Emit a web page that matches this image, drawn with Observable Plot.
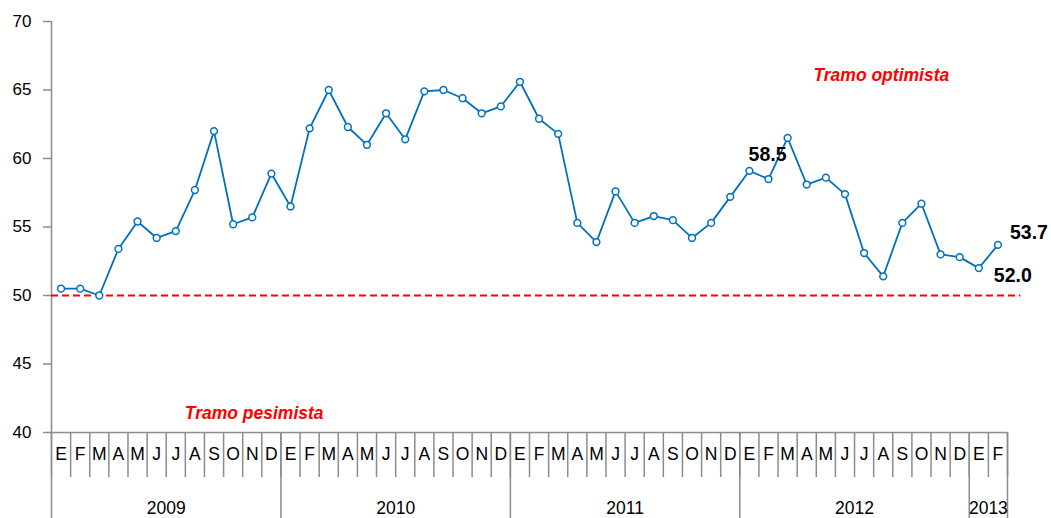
<!DOCTYPE html>
<html>
<head>
<meta charset="utf-8">
<script src="https://cdn.jsdelivr.net/npm/d3@7"></script>
<script src="https://cdn.jsdelivr.net/npm/@observablehq/plot@0.6"></script>
<style>
  html, body { margin: 0; padding: 0; background: #fff; }
  #chart svg { display: block; }
</style>
</head>
<body>
<div id="chart"></div>
<script>
const monthLetters = ["E","F","M","A","M","J","J","A","S","O","N","D"];
const years = [2009, 2010, 2011, 2012, 2013];
const values = [
  50.5, 50.5, 50.0, 53.4, 55.4, 54.2, 54.7, 57.7, 62.0, 55.2, 55.7, 58.9,
  56.5, 62.2, 65.0, 62.3, 61.0, 63.3, 61.4, 64.9, 65.0, 64.4, 63.3, 63.8,
  65.6, 62.9, 61.8, 55.3, 53.9, 57.6, 55.3, 55.8, 55.5, 54.2, 55.3, 57.2,
  59.1, 58.5, 61.5, 58.1, 58.6, 57.4, 53.1, 51.4, 55.3, 56.7, 53.0, 52.8,
  52.0, 53.7
];
const threshold = 50;
const labelled = [
  {i: 37, text: "58.5", dx: -1, dy: -24},
  {i: 48, text: "52.0", dx: 34, dy: 8},
  {i: 49, text: "53.7", dx: 31, dy: -12}
];
const zones = [
  {text: "Tramo optimista", x: 43.4, y: 66.1},
  {text: "Tramo pesimista", x: 10.6, y: 41.4}
];

const n = values.length;
const data = values.map((v, i) => ({i, v}));
const gray = "#8c8c8c";
const blue = "#0070C0";
const font = "'Liberation Sans', Arial, sans-serif";

const yearBounds = years.map((y, k) => k * 12).concat([n]);
const yearCenters = years.map((y, k) => (k * 12 + Math.min(n, k * 12 + 12)) / 2);

const chart = Plot.plot({
  width: 1051,
  height: 518,
  marginLeft: 51,
  marginRight: 44,
  marginTop: 21,
  marginBottom: 86,
  style: {fontFamily: font, fontSize: "17px", color: "#000", background: "#fff", overflow: "visible"},
  x: {domain: [0, n], label: null},
  y: {domain: [40, 70], label: null},
  marks: [
    Plot.axisY({ticks: d3.range(40, 71, 5), tickSize: 8, tickPadding: 12, stroke: gray, strokeWidth: 1.5, fontSize: 17, fill: "#000"}),
    Plot.ruleX([0], {stroke: gray, strokeWidth: 1.5}),
    Plot.ruleY([40], {stroke: gray, strokeWidth: 1.5}),
    Plot.axisX({ticks: d3.range(0, n + 1), tickSize: 45, tickFormat: () => "", stroke: gray, strokeWidth: 1.5}),
    Plot.axisX({ticks: yearBounds, tickSize: 86, tickFormat: () => "", stroke: gray, strokeWidth: 1.5}),
    Plot.axisX({ticks: d3.range(0, n).map(i => i + 0.5), tickSize: 0, tickPadding: 15,
      tickFormat: d => monthLetters[Math.floor(d) % 12], fontSize: 17.5, fill: "#000"}),
    Plot.axisX({ticks: yearCenters, tickSize: 0, tickPadding: 69,
      tickFormat: d => String(years[yearCenters.indexOf(d)]), fontSize: 17.5, fill: "#000"}),
    Plot.ruleY([threshold], {x1: 0, x2: n + 0.7, stroke: "#FF0000", strokeWidth: 2, strokeDasharray: "7,4"}),
    Plot.line(data, {x: d => d.i + 0.5, y: "v", stroke: blue, strokeWidth: 1.8}),
    Plot.dot(data, {x: d => d.i + 0.5, y: "v", r: 3.4, fill: "white", stroke: blue, strokeWidth: 1.5}),
    ...labelled.map(l => Plot.text([l], {x: d => d.i + 0.5, y: d => values[d.i], text: "text",
      dx: l.dx, dy: l.dy, fontSize: 19.5, fontWeight: "bold", fill: "#000"})),
    Plot.text(zones, {x: "x", y: "y", text: "text", fill: "#FF0000", fontSize: 17.5, fontWeight: "bold", fontStyle: "italic"})
  ]
});

document.getElementById("chart").appendChild(chart);
</script>
</body>
</html>
